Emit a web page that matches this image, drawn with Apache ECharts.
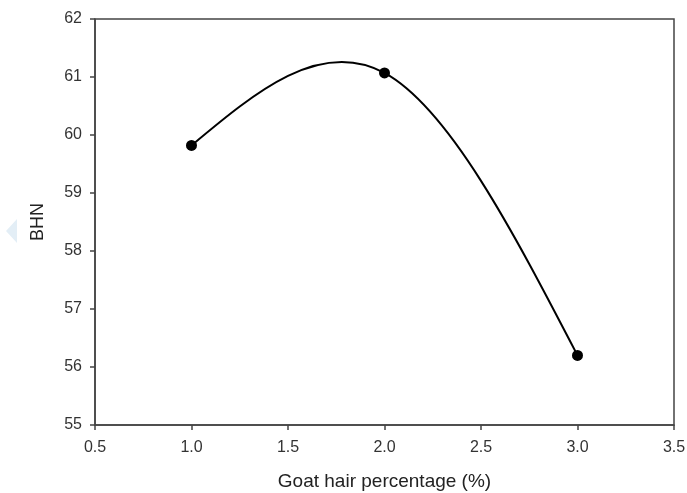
<!DOCTYPE html>
<html><head><meta charset="utf-8">
<script src="https://cdn.jsdelivr.net/npm/echarts@6/dist/echarts.min.js"></script>
<style>html,body{margin:0;padding:0;background:#fff}#c{width:687px;height:493px}</style>
</head><body><div id="c"></div>
<script>
const xValues = [1.0, 2.0, 3.0];
const bhnValues = [59.82, 61.07, 56.2];
const xTitle = 'Goat hair percentage (%)';
const yTitle = 'BHN';

// Natural cubic spline tangents (as in SigmaPlot spline curve)
function splineSlopes(xs, ys) {
  const n = xs.length;
  const h = [], M = new Array(n).fill(0);
  for (let i = 0; i < n - 1; i++) h.push(xs[i + 1] - xs[i]);
  const a = [], b = [], c = [], d = [];
  for (let i = 1; i < n - 1; i++) {
    a.push(h[i - 1]); b.push(2 * (h[i - 1] + h[i])); c.push(h[i]);
    d.push(6 * ((ys[i + 1] - ys[i]) / h[i] - (ys[i] - ys[i - 1]) / h[i - 1]));
  }
  const m = d.length;
  for (let i = 1; i < m; i++) { const w = a[i] / b[i - 1]; b[i] -= w * c[i - 1]; d[i] -= w * d[i - 1]; }
  for (let i = m - 1; i >= 0; i--) M[i + 1] = (d[i] - (i < m - 1 ? c[i] * M[i + 2] : 0)) / b[i];
  const seg = [];
  for (let i = 0; i < n - 1; i++) {
    const s = (ys[i + 1] - ys[i]) / h[i];
    seg.push({
      m0: s - h[i] * (2 * M[i] + M[i + 1]) / 6,
      m1: s + h[i] * (M[i] + 2 * M[i + 1]) / 6
    });
  }
  return seg;
}
const slopes = splineSlopes(xValues, bhnValues);

const chart = echarts.init(document.getElementById('c'));
const font = 'Liberation Sans, Arial, sans-serif';
chart.setOption({
  animation: false,
  backgroundColor: '#fff',
  grid: {left: 95, top: 19, right: 13, bottom: 68, outerBoundsMode: 'none', containLabel: false},
  xAxis: {
    type: 'value', min: 0.5, max: 3.5, interval: 0.5,
    name: xTitle, nameLocation: 'middle', nameGap: 47,
    nameTextStyle: {fontFamily: font, fontSize: 19, color: '#222'},
    axisLine: {show: true, lineStyle: {color: '#444', width: 1.5}},
    axisTick: {show: true, inside: false, length: 5, lineStyle: {color: '#444', width: 1.5}},
    axisLabel: {fontFamily: font, fontSize: 16, color: '#333', margin: 15, formatter: v => v.toFixed(1)},
    splitLine: {show: false}
  },
  yAxis: {
    type: 'value', min: 55, max: 62, interval: 1,
    name: yTitle, nameLocation: 'middle', nameGap: 48,
    nameTextStyle: {fontFamily: font, fontSize: 18, color: '#222'},
    axisLine: {show: true, lineStyle: {color: '#444', width: 1.5}},
    axisTick: {show: true, inside: false, length: 5, lineStyle: {color: '#444', width: 1.5}},
    axisLabel: {fontFamily: font, fontSize: 16, color: '#333', margin: 13},
    splitLine: {show: false}
  },
  graphic: [
    {type: 'rect', shape: {x: 95, y: 19, width: 579, height: 406}, style: {fill: 'none', stroke: '#444', lineWidth: 1.5}, silent: true, z: 10},
    {type: 'polygon', shape: {points: [[6,231],[17,219],[17,243]]}, style: {fill: '#e3eef6'}, silent: true}
  ],
  series: [{
    type: 'custom',
    data: xValues.slice(0, -1).map((x, i) => [x, bhnValues[i]]),
    renderItem: function (params, api) {
      const i = params.dataIndex;
      const x0 = xValues[i], x1 = xValues[i + 1], y0 = bhnValues[i], y1 = bhnValues[i + 1];
      const h = x1 - x0;
      const p0 = api.coord([x0, y0]);
      const c1 = api.coord([x0 + h / 3, y0 + slopes[i].m0 * h / 3]);
      const c2 = api.coord([x1 - h / 3, y1 - slopes[i].m1 * h / 3]);
      const p3 = api.coord([x1, y1]);
      return {
        type: 'bezierCurve',
        shape: {x1: p0[0], y1: p0[1], cpx1: c1[0], cpy1: c1[1], cpx2: c2[0], cpy2: c2[1], x2: p3[0], y2: p3[1]},
        style: {stroke: '#000', lineWidth: 2, fill: 'none'}
      };
    },
    z: 2
  }, {
    type: 'scatter',
    data: xValues.map((x, i) => [x, bhnValues[i]]),
    symbol: 'circle', symbolSize: 11,
    itemStyle: {color: '#000', opacity: 1},
    z: 3
  }]
});
</script></body></html>
